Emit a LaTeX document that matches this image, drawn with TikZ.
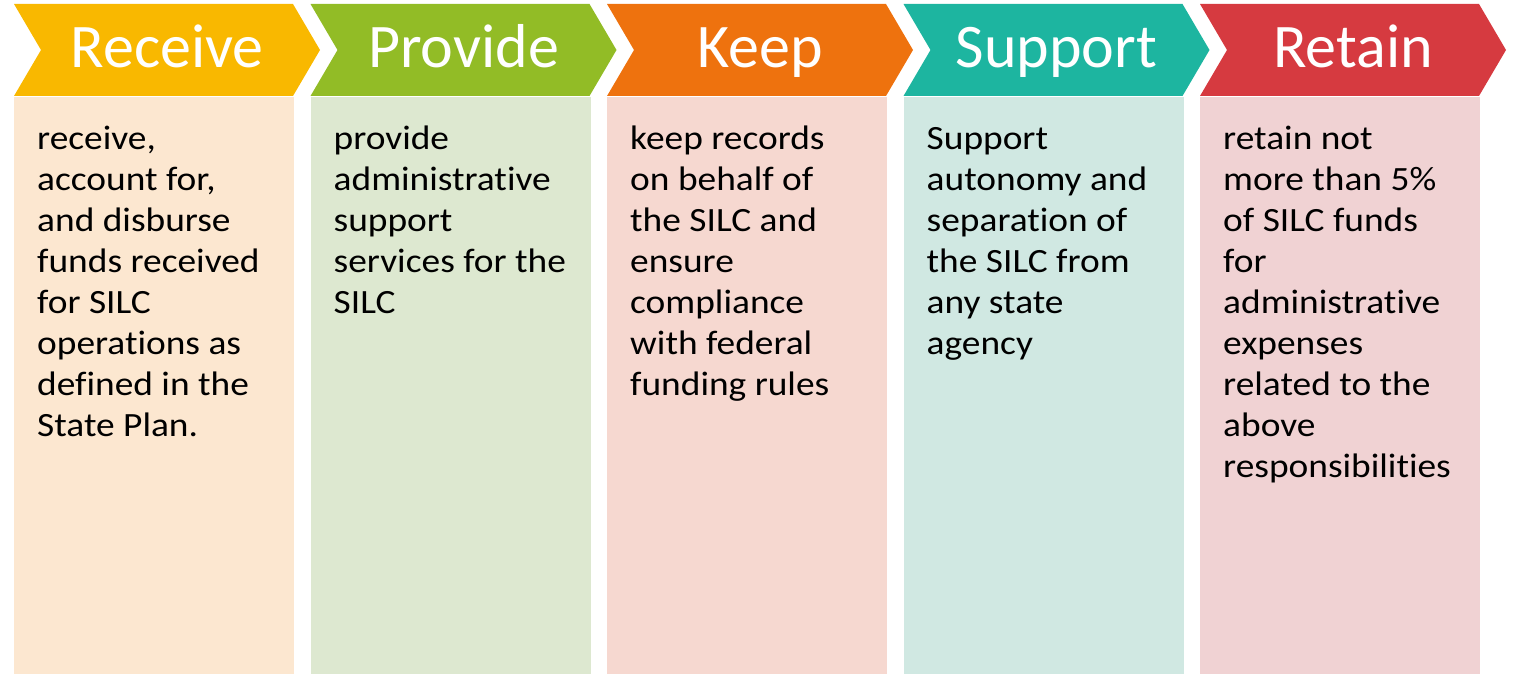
\documentclass[tikz,border=0pt]{standalone}
\usepackage{fontspec}
\setmainfont{Carlito}
\newfontfamily\bodyfont[FakeStretch=1.1,Ligatures=NoCommon]{Carlito}
\usetikzlibrary{positioning}

\definecolor{recDark}{HTML}{F9B800}
\definecolor{recLight}{HTML}{FCE7D0}
\definecolor{proDark}{HTML}{92BC26}
\definecolor{proLight}{HTML}{DDE8D0}
\definecolor{keeDark}{HTML}{EE720E}
\definecolor{keeLight}{HTML}{F6D8D0}
\definecolor{supDark}{HTML}{1DB5A0}
\definecolor{supLight}{HTML}{D0E8E2}
\definecolor{retDark}{HTML}{D63A40}
\definecolor{retLight}{HTML}{F0D2D3}

\begin{document}
\begin{tikzpicture}[x=1pt,y=-1pt,
        head/.style={anchor=base,text=white,inner sep=0pt,font=\fontsize{62}{62}\selectfont},
        body/.style={anchor=north west,align=left,inner sep=0pt,font=\bodyfont\fontsize{34}{41}\selectfont}]
    \useasboundingbox (0,0) rectangle (1513,674);
    \foreach \l/\dk/\lt in {14/recDark/recLight, 310.5/proDark/proLight, 607/keeDark/keeLight,
                            903.5/supDark/supLight, 1200/retDark/retLight}{
        \fill[\dk] (\l,4) -- ++(279,0) -- ++(27,46) -- ++(-27,46) -- ++(-279,0) -- ++(27,-46) -- cycle;
        \fill[\lt] (\l,97) rectangle ++(280,577);
    }
    \node[head] (h1) at (167,68) {Receive};
    \node[head] (h2) at (463.5,68) {Provide};
    \node[head] (h3) at (760,68) {Keep};
    \node[head] (h4) at (1056.5,68) {Support};
    \node[head] (h5) at (1353,68) {Retain};
    \node[body] (t1) at (37,120.3) {\strut receive,\\account for,\\and disburse\\funds received\\for SILC\\operations as\\defined in the\\State Plan.};
    \node[body] (t2) at (333.5,120.3) {\strut provide\\administrative\\support\\services for the\\SILC};
    \node[body] (t3) at (630,120.3) {\strut keep records\\on behalf of\\the SILC and\\ensure\\compliance\\with federal\\funding rules};
    \node[body] (t4) at (926.5,120.3) {\strut Support\\autonomy and\\separation of\\the SILC from\\any state\\agency};
    \node[body] (t5) at (1223,120.3) {\strut retain not\\more than 5\%\\of SILC funds\\for\\administrative\\expenses\\related to the\\above\\responsibilities};
\end{tikzpicture}
\end{document}
